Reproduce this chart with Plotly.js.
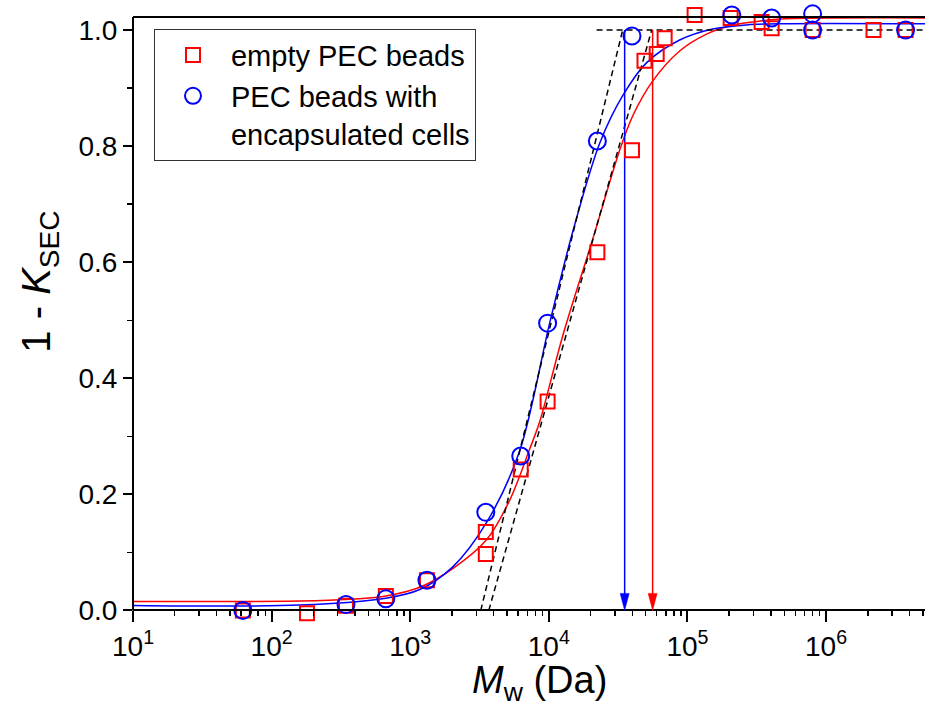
<!DOCTYPE html>
<html>
<head>
<meta charset="utf-8">
<script src="https://cdn.plot.ly/plotly-3.0.1.min.js"></script>
<style>html,body{margin:0;padding:0;background:#fff;}#chart{width:925px;height:709px;}</style>
</head>
<body>
<div id="chart"></div>
<script>
// ---- data ----
// empty PEC beads (red squares)
const emptyX = [62, 180, 344, 667, 1320, 3510, 3510, 6270, 9800, 22400, 39800, 49000, 60000, 68500, 112700, 205000, 343000, 405000, 800000, 2200000, 3750000];
const emptyY = [0.0, -0.005, 0.008, 0.025, 0.052, 0.097, 0.135, 0.243, 0.36, 0.617, 0.793, 0.947, 0.959, 0.986, 1.026, 1.021, 1.014, 1.003, 1.0, 1.0, 1.0];
// PEC beads with encapsulated cells (blue circles)
const cellsX = [62, 344, 667, 1320, 3510, 6270, 9800, 22400, 39800, 209000, 405000, 800000, 800000, 3750000];
const cellsY = [0.0, 0.01, 0.02, 0.052, 0.169, 0.266, 0.495, 0.809, 0.99, 1.026, 1.021, 1.028, 1.0, 1.0];

// fitted curves
const fitEmptyX = [10, 160, 367, 667, 1172, 2028, 3565, 5224, 7278, 8590, 12590, 20750, 32430, 40270, 56100, 87900, 137400, 201400, 295100, 462400, 5180000];
const fitEmptyY = [0.0155, 0.016, 0.019, 0.025, 0.040, 0.072, 0.122, 0.190, 0.278, 0.325, 0.473, 0.640, 0.793, 0.852, 0.912, 0.964, 0.993, 1.007, 1.014, 1.019, 1.021];
const fitCellsX = [10, 160, 667, 1172, 2028, 3565, 6166, 10140, 14860, 23280, 34120, 50820, 87900, 152100, 267300, 462400, 5180000];
const fitCellsY = [0.0086, 0.0091, 0.021, 0.036, 0.075, 0.152, 0.275, 0.495, 0.652, 0.805, 0.887, 0.944, 0.983, 1.002, 1.009, 1.011, 1.011];

// tangent (dashed) lines and plateau line
const tanCellsX = [3228, 34100];
const tanEmptyX = [3690, 55200];
const tanY = [0, 1];
const plateauX = [22100, 5180000];
const plateauY = [1, 1];

// arrows marking the cut-off
const arrowX = [35250, 56100];
const arrowColors = ['#0000FF', '#FF0000'];
const arrowTop = 1.0;
const arrowBottom = 0.02;

// axis ticks
const xTickVals = [10, 100, 1000, 10000, 100000, 1000000];
const xTickText = ['10<sup>1</sup>', '10<sup>2</sup>', '10<sup>3</sup>', '10<sup>4</sup>', '10<sup>5</sup>', '10<sup>6</sup>'];
const xMinor = [];
for (let d = 1; d <= 6; d++) { for (let k = 2; k <= 9; k++) { xMinor.push(k * Math.pow(10, d)); } }
const yTickVals = [0, 0.2, 0.4, 0.6, 0.8, 1.0];
const yTickText = ['0.0', '0.2', '0.4', '0.6', '0.8', '1.0'];
const yMinor = [0.1, 0.3, 0.5, 0.7, 0.9];

// frame extents (data units)
const yMin = -0.02, yMax = 1.045, frameTop = 1.0224;

const RED = '#FF0000', BLUE = '#0000FF';
const FONT = 'Liberation Sans, Arial, sans-serif';

const traces = [
  {x: fitEmptyX, y: fitEmptyY, mode: 'lines', line: {color: RED, width: 1.5, shape: 'spline', smoothing: 0.9}, showlegend: false, hoverinfo: 'skip'},
  {x: fitCellsX, y: fitCellsY, mode: 'lines', line: {color: BLUE, width: 1.5, shape: 'spline', smoothing: 0.9}, showlegend: false, hoverinfo: 'skip'},
  {x: tanCellsX, y: tanY, mode: 'lines', line: {color: '#000', width: 1.5, dash: '6px,4px'}, showlegend: false, hoverinfo: 'skip'},
  {x: tanEmptyX, y: tanY, mode: 'lines', line: {color: '#000', width: 1.5, dash: '6px,4px'}, showlegend: false, hoverinfo: 'skip'},
  {x: plateauX, y: plateauY, mode: 'lines', line: {color: '#000', width: 1.5, dash: '6px,4px'}, showlegend: false, hoverinfo: 'skip'}
];
arrowX.forEach((ax, i) => {
  traces.push({x: [ax, ax], y: [arrowTop, arrowBottom], mode: 'lines', line: {color: arrowColors[i], width: 1.5}, showlegend: false, hoverinfo: 'skip'});
});
traces.push({x: emptyX, y: emptyY, mode: 'markers', name: 'empty PEC beads', cliponaxis: false,
  marker: {symbol: 'square-open', size: 14, color: RED, line: {color: RED, width: 2}}});
traces.push({x: cellsX, y: cellsY, mode: 'markers', name: 'PEC beads with<br>encapsulated cells', cliponaxis: false,
  marker: {symbol: 'circle-open', size: 17, color: BLUE, line: {color: BLUE, width: 2}}});

const shapes = arrowX.map((ax, i) => ({
  type: 'path', xref: 'x', yref: 'y', xsizemode: 'pixel', ysizemode: 'pixel',
  xanchor: ax, yanchor: 0, path: 'M0,0 L-4.5,17 L4.5,17 Z',
  fillcolor: arrowColors[i], line: {color: arrowColors[i], width: 0.5}
}));
// frame: top line and left axis line
shapes.push({type: 'line', xref: 'paper', yref: 'y', x0: 0, x1: 1, y0: frameTop, y1: frameTop, line: {color: '#000', width: 2}});
shapes.push({type: 'line', xref: 'paper', yref: 'y', x0: 0, x1: 0, y0: 0, y1: frameTop, line: {color: '#000', width: 2}});

const layout = {
  width: 925, height: 709,
  margin: {l: 133, r: 0, t: 4, b: 87},
  paper_bgcolor: '#fff', plot_bgcolor: '#fff',
  font: {family: FONT, color: '#000', size: 28},
  showlegend: true,
  legend: {x: 0.0265, y: 0.96, xanchor: 'left', yanchor: 'top', bgcolor: '#fff', bordercolor: '#333', borderwidth: 1,
    font: {family: FONT, size: 29, color: '#000'}, valign: 'top', itemwidth: 66, tracegroupgap: 0},
  xaxis: {type: 'log', range: [1, 6.714], showgrid: false, zeroline: false,
    anchor: 'free', position: (0 - yMin) / (yMax - yMin),
    showline: true, linecolor: '#000', linewidth: 2,
    ticks: 'outside', ticklen: 11, tickwidth: 2, tickcolor: '#000',
    tickmode: 'array', tickvals: xTickVals, ticktext: xTickText,
    tickfont: {family: FONT, size: 28},
    minor: {tickmode: 'array', tickvals: xMinor, ticks: 'outside', ticklen: 5, tickwidth: 1.5, tickcolor: '#000'}},
  yaxis: {range: [yMin, yMax], showgrid: false, zeroline: false,
    showline: false,
    ticks: 'outside', ticklen: 9, tickwidth: 2, tickcolor: '#000',
    tickmode: 'array', tickvals: yTickVals, ticktext: yTickText,
    tickfont: {family: FONT, size: 28},
    minor: {tickmode: 'array', tickvals: yMinor, ticks: 'outside', ticklen: 5, tickwidth: 1.5, tickcolor: '#000'}},
  annotations: [
    {text: '<i>M</i><sub>w</sub> (Da)', xref: 'paper', yref: 'paper', x: 0.513, y: -0.098, xanchor: 'center', yanchor: 'middle',
      showarrow: false, font: {family: FONT, size: 38, color: '#000'}},
    {text: '1 - <i>K</i><sub>SEC</sub>', xref: 'paper', yref: 'paper', x: -0.118, y: 0.55, xanchor: 'center', yanchor: 'middle',
      textangle: -90, showarrow: false, font: {family: FONT, size: 40, color: '#000'}}
  ],
  shapes: shapes
};

Plotly.newPlot('chart', traces, layout, {staticPlot: true, displayModeBar: false});
</script>
</body>
</html>
